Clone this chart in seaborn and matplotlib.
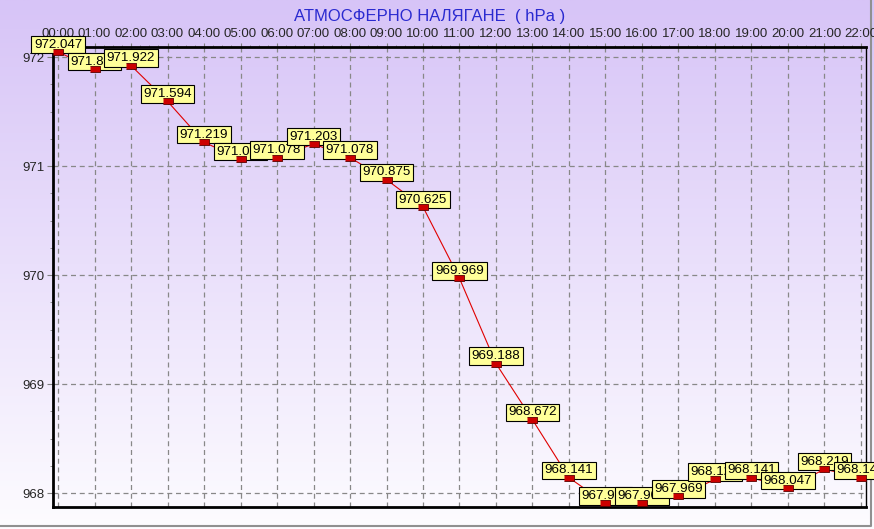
import numpy as np
import pandas as pd
import matplotlib
matplotlib.use('Agg')
import matplotlib.pyplot as plt
import seaborn as sns
from matplotlib.ticker import MultipleLocator

hours = ['00:00', '01:00', '02:00', '03:00', '04:00', '05:00', '06:00', '07:00',
         '08:00', '09:00', '10:00', '11:00', '12:00', '13:00', '14:00', '15:00',
         '16:00', '17:00', '18:00', '19:00', '20:00', '21:00', '22:00']
pressure = [972.047, 971.891, 971.922, 971.594, 971.219, 971.063, 971.078, 971.203,
            971.078, 970.875, 970.625, 969.969, 969.188, 968.672, 968.141, 967.906,
            967.906, 967.969, 968.125, 968.141, 968.047, 968.219, 968.141]
y_ticks = [968, 969, 970, 971, 972]

df = pd.DataFrame({'pos': range(len(hours)), 'hPa': pressure})

sns.set_style('white')
plt.rcParams['font.family'] = ['Liberation Sans', 'DejaVu Sans']

fig = plt.figure(figsize=(8.74, 5.29), dpi=100)

# фон - градиент от лилаво към бяло
bg = fig.add_axes([0, 0, 1, 1], zorder=-10)
top = np.array([215, 196, 247]) / 255
bot = np.array([253, 252, 255]) / 255
t = np.linspace(0, 1, 256)[:, None]
grad = top * (1 - t) + bot * t
bg.imshow(grad[:, None, :].repeat(2, axis=1), aspect='auto', extent=[0, 1, 0, 1])
bg.axis('off')
bg.plot([0, 0.9966, 0.9966], [0.006, 0.006, 1], color='#909090', lw=1.5,
        transform=bg.transAxes)

ax = fig.add_axes([53 / 874, 22 / 529, 813 / 874, 460 / 529])
ax.set_facecolor('none')

sns.lineplot(data=df, x='pos', y='hPa', ax=ax, color='#e00000', lw=0.8, zorder=3)

rect = [(-1, -0.55), (1, -0.55), (1, 0.55), (-1, 0.55)]
sns.scatterplot(data=df, x='pos', y='hPa', ax=ax, marker=rect, s=55, color='#cc0000',
                edgecolor='#5a0000', linewidth=0.6, zorder=5)

for i, v in enumerate(pressure):
    ax.annotate(f'{v:.3f}', (i, v), xytext=(0, 1), textcoords='offset points',
                ha='center', va='bottom', fontsize=9.6, color='black', zorder=4,
                bbox=dict(boxstyle='square,pad=0.2', fc='#ffff99', ec='black', lw=0.8))

ax.set_xlim(-0.137, 22.137)
ax.set_ylim(967.872, 972.092)
ax.set_xticks(range(len(hours)))
ax.set_xticklabels(hours)
ax.set_yticks(y_ticks)
ax.set_yticklabels([str(v) for v in y_ticks])
ax.yaxis.set_minor_locator(MultipleLocator(0.25))
ax.xaxis.set_minor_locator(MultipleLocator(0.25))
ax.xaxis.tick_top()
ax.tick_params(axis='x', which='major', top=True, bottom=False, length=3, width=0.8,
               color='#808080', labelsize=9.5, pad=2)
ax.tick_params(axis='x', which='minor', top=True, bottom=False, length=1.5, color='#808080')
ax.tick_params(axis='y', which='major', left=True, length=4, width=0.8,
               color='#808080', labelsize=9.5, pad=2)
ax.tick_params(axis='y', which='minor', left=True, length=2, color='#808080')
ax.grid(True, which='major', linestyle=(0, (4, 3)), color='#888888', lw=0.9)
ax.set_xlabel('')
ax.set_ylabel('')

for s in ['left', 'top', 'bottom']:
    ax.spines[s].set_linewidth(2)
    ax.spines[s].set_color('black')
ax.spines['right'].set_linewidth(1)
ax.spines['right'].set_color('black')
ax.spines['right'].set_visible(True)

fig.text(0.492, 0.968, 'АТМОСФЕРНО НАЛЯГАНЕ  ( hPa )', ha='center', va='center',
         fontsize=12, color='#2a2ad0')

fig.savefig('out.png', dpi=100)
